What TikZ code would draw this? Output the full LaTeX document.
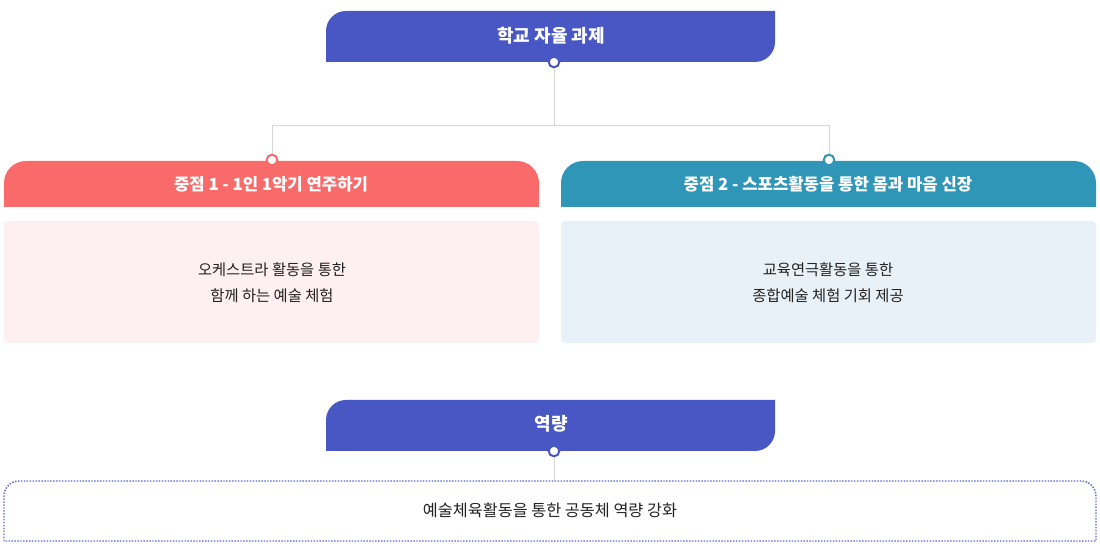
\documentclass[tikz,border=0pt]{standalone}
\usepackage{fontspec}
\setmainfont{Noto Sans CJK KR}
\usepackage{xcolor}
\usepackage{tikz}
\usetikzlibrary{positioning,calc}

\definecolor{taskblue}{HTML}{4857C3}
\definecolor{pointred}{HTML}{F96B6B}
\definecolor{pointteal}{HTML}{3096B8}
\definecolor{bodypink}{HTML}{FEEFF0}
\definecolor{bodyblue}{HTML}{E9F1F8}
\definecolor{linkgray}{HTML}{D6D6D6}
\definecolor{dotblue}{HTML}{5A68D0}
\definecolor{textdark}{HTML}{222222}

\tikzset{
    headtext/.style={text=white, font=\fontsize{12.5}{14}\selectfont\bfseries},
    titletext/.style={text=white, font=\fontsize{13.5}{15}\selectfont\bfseries},
    bodytext/.style={text=textdark, align=center, font=\fontsize{11.5}{19.5}\selectfont},
    joint/.style={circle, draw=#1, fill=white, line width=1.5pt, inner sep=0pt, minimum size=8pt},
    link/.style={draw=linkgray, line width=0.75pt}
}

\begin{document}
\begin{tikzpicture}[x=0.75pt,y=-0.75pt]
    \useasboundingbox (0,0) rectangle (1100,548);

    % Top task box
    \fill[taskblue] (326,62) -- (326,31) arc[start angle=180,end angle=270,radius=20] -- (775,11)
        -- (775,42) arc[start angle=0,end angle=90,radius=20] -- cycle;
    \node[titletext] (task) at (551,36) {학교 자율 과제};

    % Focus headers
    \fill[pointred] (4,207) -- (4,183) arc[start angle=180,end angle=270,radius=22] -- (517,161)
        arc[start angle=270,end angle=360,radius=22] -- (539,207) -- cycle;
    \fill[pointteal] (561,207) -- (561,183) arc[start angle=180,end angle=270,radius=22] -- (1074,161)
        arc[start angle=270,end angle=360,radius=22] -- (1096,207) -- cycle;
    \node[headtext] (focusA) at (271,184) {중점 1 - 1인 1악기 연주하기};
    \node[headtext] (focusB) at (828,184) {중점 2 - 스포츠활동을 통한 몸과 마음 신장};

    % Focus bodies
    \fill[bodypink, rounded corners=3pt] (4,221) rectangle (539,343);
    \fill[bodyblue, rounded corners=3pt] (561,221) rectangle (1096,343);
    \node[bodytext] (bodyA) at (272,283) {오케스트라 활동을 통한\\함께 하는 예술 체험};
    \node[bodytext] (bodyB) at (828,283) {교육연극활동을 통한\\종합예술 체험 기회 제공};

    % Competence box
    \fill[taskblue] (326,451) -- (326,420) arc[start angle=180,end angle=270,radius=20] -- (775,400)
        -- (775,431) arc[start angle=0,end angle=90,radius=20] -- cycle;
    \node[titletext] (skill) at (551,424) {역량};

    % Result box (dotted)
    \draw[dotblue, line width=1.1pt, dash pattern=on 1.1pt off 1.1pt]
        (4,541) -- (4,496) arc[start angle=180,end angle=270,radius=15] -- (1081,481)
        arc[start angle=270,end angle=360,radius=15] -- (1096,541) -- cycle;
    \node[text=textdark, font=\fontsize{12.2}{14}\selectfont] (result) at (550,510) {예술체육활동을 통한 공동체 역량 강화};

    % Connectors
    \coordinate (split) at (554,126);
    \coordinate (resultTop) at (554,481);
    \node[joint=taskblue] (taskdot) at (554,62) {};
    \node[joint=pointred] (dotA) at (272,160) {};
    \node[joint=pointteal] (dotB) at (829,160) {};
    \node[joint=taskblue] (skilldot) at (554,451) {};
    \draw[link] (taskdot) -- (split);
    \draw[link] (split) -| (dotA);
    \draw[link] (split) -| (dotB);
    \draw[link] (skilldot) -- (resultTop);
\end{tikzpicture}
\end{document}
